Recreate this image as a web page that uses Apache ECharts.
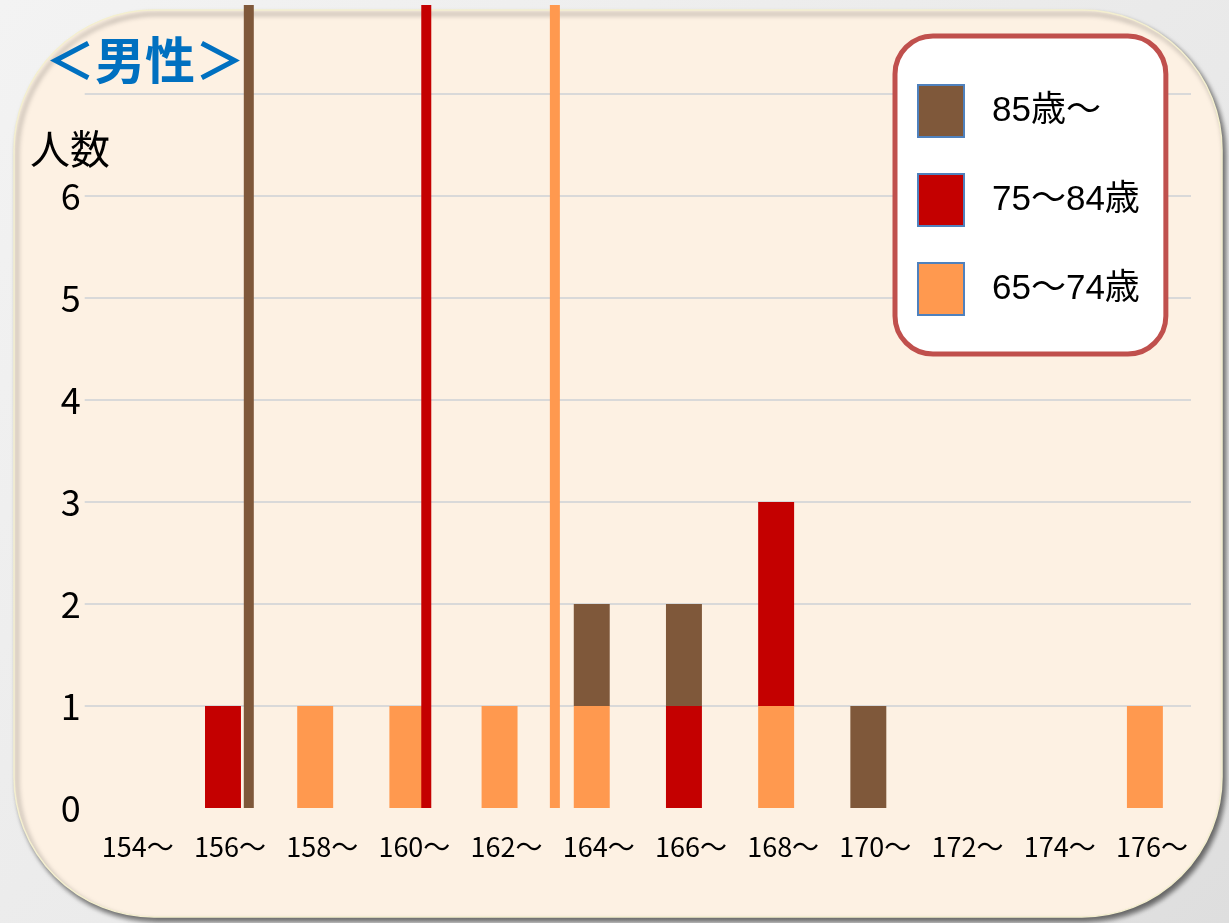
<!DOCTYPE html>
<html>
<head>
<meta charset="utf-8">
<script src="https://cdn.jsdelivr.net/npm/echarts@6/dist/echarts.min.js"></script>
<style>
html,body{margin:0;padding:0;width:1229px;height:923px;overflow:hidden;background:linear-gradient(135deg,#f3f3f3 0%,#e9e9e9 60%,#dedede 100%);}
#c{width:1229px;height:923px;}
</style>
</head>
<body>
<div id="c"></div>
<script>
const categories = ['154～','156～','158～','160～','162～','164～','166～','168～','170～','172～','174～','176～'];
const seriesNames = ['85歳～','75～84歳','65～74歳'];
const age85 = [0,0,0,0,0,1,1,0,1,0,0,0];
const age75 = [0,1,0,0,0,0,1,2,0,0,0,0];
const age65 = [0,0,1,1,1,1,0,1,0,0,0,1];
const meanHeights = [157.56, 161.41, 164.2]; // 85歳～, 75～84歳, 65～74歳
const yTicks = [0,1,2,3,4,5,6,7];
const colors = ['#7F583A','#C40000','#FF994F'];

const FONT = '"Noto Sans CJK JP","Noto Sans",sans-serif';
const chart = echarts.init(document.getElementById('c'), null, {renderer:'canvas'});

const meanSeries = meanHeights.map((h,i)=>({
  type:'line', xAxisIndex:1, yAxisIndex:1, silent:true, z:5,
  symbol:'none', data:[[h,0],[h,1]],
  lineStyle:{color:colors[i], width:10, cap:'butt'}
}));

chart.setOption({
  animation:false,
  textStyle:{fontFamily:FONT},
  graphic:[{
    type:'rect', z:-10, silent:true,
    shape:{x:14, y:10, width:1208, height:907, r:140},
    style:{fill:'#FDF1E3', stroke:'#F4EFCF', lineWidth:1.5,
      shadowBlur:5, shadowOffsetX:3, shadowOffsetY:4, shadowColor:'rgba(0,0,0,0.55)'}
  }],
  title:[
    {text:'＜男性＞', left:40, top:30, textStyle:{fontFamily:FONT, fontSize:50, fontWeight:'bold', color:'#0070C0'}},
    {text:'人数', left:25, top:124, textStyle:{fontFamily:FONT, fontSize:40, fontWeight:'normal', color:'#000'}}
  ],
  legend:{
    data:seriesNames, orient:'vertical', left:895, top:36, selectedMode:false,
    itemWidth:46, itemHeight:52, itemGap:35,
    padding:[48,26,38,22],
    backgroundColor:'#FFFFFF', borderColor:'#C0504D', borderWidth:5, borderRadius:38,
    icon:'rect',
    itemStyle:{borderColor:'#4F81BD', borderWidth:2},
    textStyle:{fontFamily:'"Liberation Sans","Noto Sans CJK JP",sans-serif', fontSize:35, color:'#000', padding:[8,0,0,23]}
  },
  grid:[
    {left:84.7, right:38, top:94, bottom:115},
    {left:84.7, right:38, top:5, bottom:115}
  ],
  xAxis:[
    {type:'category', gridIndex:0, data:categories,
     axisLine:{show:false}, axisTick:{show:false},
     axisLabel:{interval:0, hideOverlap:false, fontFamily:FONT, fontSize:27, color:'#000', margin:25, padding:[0,0,0,14]}},
    {type:'value', gridIndex:1, min:154, max:178, show:false, splitLine:{show:false}}
  ],
  yAxis:[
    {type:'value', gridIndex:0, min:yTicks[0], max:yTicks[yTicks.length-1], interval:1,
     axisLine:{show:false}, axisTick:{show:false},
     axisLabel:{fontFamily:FONT, fontSize:36, color:'#000', margin:4, showMaxLabel:false},
     splitLine:{lineStyle:{width:2, color:['rgba(0,0,0,0)','#D9D9D9','#D9D9D9','#D9D9D9','#D9D9D9','#D9D9D9','#D9D9D9','#D9D9D9']}}},
    {type:'value', gridIndex:1, min:0, max:1, show:false, splitLine:{show:false}}
  ],
  series:[
    {name:seriesNames[2], type:'bar', stack:'a', data:age65, barWidth:'39%', itemStyle:{color:colors[2]}},
    {name:seriesNames[1], type:'bar', stack:'a', data:age75, barWidth:'39%', itemStyle:{color:colors[1]}},
    {name:seriesNames[0], type:'bar', stack:'a', data:age85, barWidth:'39%', itemStyle:{color:colors[0]}},
    ...meanSeries
  ]
});
</script>
</body>
</html>
